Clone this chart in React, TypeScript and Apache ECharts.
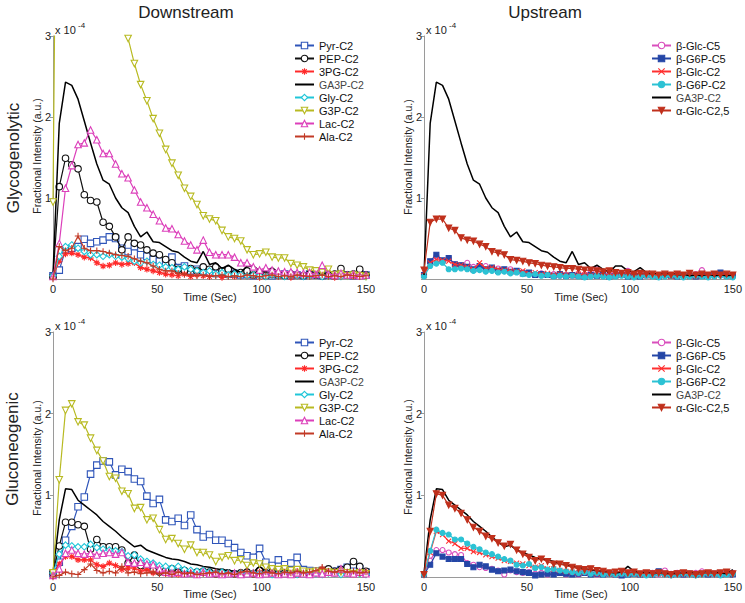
import React, { useEffect, useRef } from 'react';
import * as echarts from 'echarts';

// Time points (s)
const TIME = [0, 3, 6, 9, 12, 15, 18, 21, 24, 27, 30, 33, 36, 39, 42, 45, 48, 51, 54, 57, 60, 63, 66, 69, 72, 75, 78, 81, 84, 87, 90, 93, 96, 99, 102, 105, 108, 111, 114, 117, 120, 123, 126, 129, 132, 135, 138, 141, 144, 147, 150];

// Y tick labels (x 10^-4) and X tick labels
const Y_TICKS = [0, 1, 2, 3];
const X_TICKS = [0, 50, 100, 150];

// ---------- Glycogenolytic, downstream (values x 1e-4) ----------
const gnPyr = [0.04, 0.11, 0.36, 0.38, 0.4, 0.49, 0.44, 0.46, 0.48, 0.52, 0.5, 0.38, 0.34, 0.4, 0.3, 0.28, 0.24, 0.22, 0.2, 0.27, 0.14, 0.16, 0.1, 0.12, 0.1, 0.08, 0.07, 0.08, 0.06, 0.07, 0.05, 0.06, 0.04, 0.06, 0.05, 0.04, 0.05, 0.06, 0.04, 0.05, 0.04, 0.06, 0.05, 0.04, 0.05, 0.04, 0.06, 0.05, 0.04, 0.06, 0.05];
const gnPEP = [0.03, 1.14, 1.49, 1.41, 1.36, 1.04, 0.97, 0.95, 0.7, 0.65, 0.52, 0.36, 0.52, 0.44, 0.42, 0.36, 0.32, 0.3, 0.24, 0.2, 0.12, 0.1, 0.13, 0.1, 0.15, 0.12, 0.15, 0.1, 0.12, 0.06, 0.08, 0.1, 0.05, 0.08, 0.04, 0.06, 0.05, 0.04, 0.06, 0.05, 0.04, 0.06, 0.05, 0.04, 0.05, 0.06, 0.13, 0.05, 0.06, 0.12, 0.05];
const gn3PG = [0.03, 0.22, 0.31, 0.32, 0.3, 0.27, 0.26, 0.2, 0.16, 0.17, 0.2, 0.18, 0.19, 0.2, 0.14, 0.12, 0.1, 0.08, 0.06, 0.05, 0.04, 0.06, 0.03, 0.05, 0.04, 0.03, 0.05, 0.02, 0.04, 0.03, 0.05, 0.03, 0.04, 0.02, 0.03, 0.05, 0.03, 0.04, 0.02, 0.03, 0.04, 0.03, 0.05, 0.03, 0.04, 0.02, 0.03, 0.04, 0.03, 0.05, 0.03];
const gnGA3P = [0.05, 1.92, 2.43, 2.39, 2.22, 1.95, 1.68, 1.42, 1.22, 1.17, 1.0, 0.88, 0.82, 0.65, 0.52, 0.58, 0.46, 0.45, 0.4, 0.35, 0.33, 0.27, 0.22, 0.2, 0.34, 0.18, 0.2, 0.13, 0.17, 0.12, 0.08, 0.16, 0.16, 0.1, 0.09, 0.14, 0.08, 0.06, 0.07, 0.05, 0.07, 0.05, 0.06, 0.04, 0.05, 0.04, 0.06, 0.04, 0.05, 0.04, 0.05];
const gnGly = [0.04, 0.28, 0.4, 0.42, 0.38, 0.34, 0.3, 0.3, 0.28, 0.3, 0.28, 0.27, 0.25, 0.22, 0.2, 0.22, 0.18, 0.17, 0.15, 0.14, 0.12, 0.15, 0.12, 0.1, 0.08, 0.1, 0.06, 0.08, 0.05, 0.06, 0.05, 0.04, 0.05, 0.04, 0.03, 0.05, 0.04, 0.03, 0.05, 0.04, 0.03, 0.04, 0.05, 0.03, 0.04, 0.05, 0.03, 0.04, 0.05, 0.04, 0.03];
const gnG3P = [0.95, 9.5, 9.0, 8.4, 7.8, 7.2, 6.6, 6.0, 5.4, 4.8, 4.2, 3.3, 2.97, 2.66, 2.4, 2.2, 1.98, 1.8, 1.6, 1.43, 1.28, 1.12, 1.02, 0.92, 0.78, 0.74, 0.72, 0.6, 0.52, 0.5, 0.47, 0.36, 0.3, 0.31, 0.33, 0.27, 0.26, 0.26, 0.19, 0.17, 0.15, 0.11, 0.1, 0.08, 0.12, 0.05, 0.06, 0.04, 0.05, 0.04, 0.03];
const gnLac = [0.03, 0.44, 1.12, 1.4, 1.66, 1.68, 1.84, 1.72, 1.55, 1.55, 1.42, 1.3, 1.25, 1.1, 0.95, 0.88, 0.8, 0.72, 0.63, 0.62, 0.55, 0.47, 0.42, 0.36, 0.48, 0.33, 0.3, 0.3, 0.3, 0.27, 0.2, 0.2, 0.15, 0.11, 0.14, 0.11, 0.1, 0.09, 0.09, 0.08, 0.07, 0.08, 0.06, 0.17, 0.06, 0.05, 0.07, 0.05, 0.06, 0.04, 0.05];
const gnAla = [0.0, 0.4, 0.35, 0.38, 0.53, 0.38, 0.35, 0.35, 0.34, 0.32, 0.3, 0.29, 0.28, 0.25, 0.22, 0.2, 0.16, 0.12, 0.1, 0.1, 0.07, 0.06, 0.05, 0.04, 0.05, 0.03, 0.04, 0.05, 0.03, 0.04, 0.03, 0.05, 0.04, 0.03, 0.04, 0.05, 0.03, 0.04, 0.03, 0.05, 0.04, 0.03, 0.04, 0.05, 0.03, 0.04, 0.03, 0.05, 0.04, 0.03, 0.04];

// ---------- Glycogenolytic, upstream ----------
const guGlcC5 = [0.06, 0.2, 0.28, 0.22, 0.26, 0.18, 0.17, 0.2, 0.15, 0.14, 0.16, 0.12, 0.13, 0.1, 0.12, 0.09, 0.08, 0.07, 0.05, 0.07, 0.05, 0.06, 0.04, 0.05, 0.04, 0.06, 0.05, 0.1, 0.12, 0.06, 0.05, 0.08, 0.06, 0.1, 0.05, 0.06, 0.04, 0.05, 0.04, 0.05, 0.04, 0.06, 0.05, 0.04, 0.06, 0.11, 0.05, 0.04, 0.06, 0.04, 0.05];
const guG6PC5 = [0.05, 0.22, 0.3, 0.23, 0.26, 0.18, 0.17, 0.15, 0.12, 0.16, 0.12, 0.14, 0.1, 0.12, 0.09, 0.1, 0.07, 0.08, 0.05, 0.06, 0.05, 0.04, 0.06, 0.04, 0.05, 0.04, 0.03, 0.05, 0.04, 0.05, 0.03, 0.04, 0.05, 0.03, 0.04, 0.03, 0.05, 0.04, 0.03, 0.05, 0.04, 0.03, 0.05, 0.04, 0.03, 0.04, 0.05, 0.06, 0.08, 0.04, 0.05];
const guGlcC2 = [0.04, 0.2, 0.24, 0.23, 0.22, 0.18, 0.17, 0.15, 0.12, 0.2, 0.13, 0.14, 0.12, 0.11, 0.1, 0.09, 0.1, 0.07, 0.08, 0.06, 0.07, 0.05, 0.06, 0.05, 0.04, 0.06, 0.05, 0.04, 0.05, 0.04, 0.06, 0.04, 0.05, 0.04, 0.03, 0.05, 0.04, 0.03, 0.05, 0.04, 0.03, 0.04, 0.05, 0.03, 0.04, 0.05, 0.04, 0.03, 0.05, 0.04, 0.04];
const guG6PC2 = [0.03, 0.16, 0.19, 0.2, 0.12, 0.12, 0.13, 0.12, 0.1, 0.11, 0.09, 0.1, 0.08, 0.09, 0.07, 0.08, 0.06, 0.05, 0.06, 0.04, 0.05, 0.03, 0.04, 0.03, 0.04, 0.03, 0.02, 0.03, 0.04, 0.03, 0.02, 0.03, 0.04, 0.03, 0.02, 0.03, 0.04, 0.03, 0.02, 0.03, 0.04, 0.03, 0.02, 0.03, 0.04, 0.03, 0.02, 0.03, 0.04, 0.03, 0.02];
const guAGlc = [0.11, 0.7, 0.74, 0.74, 0.63, 0.6, 0.51, 0.48, 0.47, 0.43, 0.4, 0.34, 0.32, 0.3, 0.24, 0.23, 0.22, 0.2, 0.19, 0.17, 0.16, 0.15, 0.14, 0.13, 0.13, 0.12, 0.11, 0.11, 0.1, 0.09, 0.1, 0.08, 0.07, 0.08, 0.06, 0.07, 0.06, 0.06, 0.05, 0.06, 0.05, 0.06, 0.05, 0.07, 0.05, 0.06, 0.05, 0.06, 0.05, 0.06, 0.05];

// ---------- Gluconeogenic, downstream ----------
const cnPyr = [0.04, 0.18, 0.45, 0.62, 0.86, 0.98, 1.26, 1.37, 1.42, 1.41, 1.25, 1.32, 1.29, 1.2, 1.17, 0.99, 0.9, 0.95, 0.7, 0.68, 0.72, 0.63, 0.76, 0.58, 0.49, 0.52, 0.45, 0.45, 0.41, 0.36, 0.3, 0.26, 0.24, 0.35, 0.18, 0.14, 0.21, 0.15, 0.17, 0.24, 0.09, 0.08, 0.07, 0.08, 0.06, 0.07, 0.09, 0.12, 0.15, 0.1, 0.06];
const cnPEP = [0.05, 0.38, 0.67, 0.67, 0.64, 0.62, 0.34, 0.46, 0.37, 0.37, 0.37, 0.33, 0.17, 0.27, 0.14, 0.12, 0.08, 0.06, 0.08, 0.1, 0.06, 0.08, 0.05, 0.06, 0.07, 0.06, 0.04, 0.06, 0.05, 0.04, 0.05, 0.06, 0.04, 0.08, 0.05, 0.06, 0.04, 0.05, 0.06, 0.04, 0.05, 0.04, 0.06, 0.08, 0.1, 0.07, 0.09, 0.12, 0.19, 0.13, 0.07];
const cn3PG = [0.03, 0.16, 0.25, 0.25, 0.21, 0.21, 0.21, 0.15, 0.13, 0.17, 0.14, 0.09, 0.11, 0.11, 0.07, 0.09, 0.05, 0.06, 0.04, 0.06, 0.03, 0.05, 0.04, 0.03, 0.05, 0.04, 0.03, 0.05, 0.04, 0.03, 0.04, 0.05, 0.03, 0.06, 0.04, 0.05, 0.03, 0.04, 0.05, 0.03, 0.04, 0.06, 0.05, 0.1, 0.05, 0.04, 0.06, 0.05, 0.04, 0.05, 0.06];
const cnGA3P = [0.05, 0.7, 1.08, 1.07, 0.94, 0.88, 0.82, 0.76, 0.68, 0.62, 0.56, 0.49, 0.43, 0.37, 0.39, 0.33, 0.3, 0.27, 0.24, 0.22, 0.21, 0.19, 0.16, 0.15, 0.13, 0.12, 0.1, 0.09, 0.08, 0.07, 0.06, 0.05, 0.06, 0.13, 0.07, 0.05, 0.06, 0.04, 0.05, 0.04, 0.05, 0.04, 0.05, 0.06, 0.05, 0.06, 0.07, 0.06, 0.05, 0.04, 0.09];
const cnGly = [0.05, 0.28, 0.39, 0.38, 0.37, 0.37, 0.4, 0.36, 0.34, 0.33, 0.32, 0.31, 0.26, 0.27, 0.22, 0.19, 0.17, 0.14, 0.13, 0.11, 0.13, 0.09, 0.08, 0.07, 0.08, 0.06, 0.05, 0.06, 0.05, 0.04, 0.05, 0.04, 0.05, 0.04, 0.05, 0.03, 0.04, 0.05, 0.04, 0.03, 0.04, 0.05, 0.04, 0.03, 0.05, 0.04, 0.03, 0.04, 0.05, 0.04, 0.03];
const cnG3P = [0.05, 1.19, 2.04, 2.12, 1.9, 1.86, 1.7, 1.55, 1.42, 1.23, 1.21, 1.05, 1.02, 0.84, 0.85, 0.7, 0.72, 0.58, 0.46, 0.47, 0.41, 0.34, 0.39, 0.3, 0.3, 0.27, 0.19, 0.24, 0.26, 0.2, 0.21, 0.14, 0.17, 0.16, 0.12, 0.1, 0.09, 0.1, 0.08, 0.09, 0.07, 0.06, 0.07, 0.05, 0.06, 0.05, 0.06, 0.05, 0.04, 0.05, 0.04];
const cnLac = [0.02, 0.1, 0.29, 0.33, 0.29, 0.28, 0.29, 0.27, 0.29, 0.3, 0.28, 0.3, 0.18, 0.17, 0.18, 0.16, 0.15, 0.1, 0.06, 0.05, 0.06, 0.04, 0.05, 0.03, 0.06, 0.04, 0.05, 0.03, 0.04, 0.05, 0.03, 0.04, 0.05, 0.03, 0.04, 0.05, 0.03, 0.04, 0.03, 0.05, 0.04, 0.03, 0.05, 0.04, 0.06, 0.05, 0.1, 0.05, 0.04, 0.06, 0.04];
const cnAla = [0.0, 0.02, 0.06, 0.04, 0.03, 0.09, 0.16, 0.08, 0.05, 0.07, 0.05, 0.13, 0.05, 0.06, 0.04, 0.05, 0.06, 0.04, 0.05, 0.03, 0.06, 0.04, 0.05, 0.03, 0.04, 0.05, 0.06, 0.04, 0.05, 0.03, 0.06, 0.07, 0.05, 0.04, 0.06, 0.05, 0.04, 0.06, 0.05, 0.07, 0.05, 0.06, 0.08, 0.12, 0.07, 0.06, 0.08, 0.06, 0.07, 0.05, 0.06];

// ---------- Gluconeogenic, upstream ----------
const cuGlcC5 = [0.03, 0.2, 0.33, 0.33, 0.3, 0.28, 0.27, 0.17, 0.15, 0.12, 0.11, 0.1, 0.08, 0.03, 0.08, 0.06, 0.05, 0.06, 0.04, 0.05, 0.03, 0.04, 0.05, 0.03, 0.04, 0.03, 0.05, 0.04, 0.03, 0.04, 0.05, 0.03, 0.04, 0.05, 0.04, 0.03, 0.04, 0.05, 0.03, 0.08, 0.04, 0.05, 0.03, 0.04, 0.05, 0.07, 0.04, 0.03, 0.05, 0.04, 0.05];
const cuG6PC5 = [0.03, 0.15, 0.29, 0.25, 0.22, 0.22, 0.22, 0.16, 0.12, 0.15, 0.13, 0.09, 0.07, 0.08, 0.09, 0.07, 0.06, 0.05, 0.02, 0.03, 0.04, 0.03, 0.05, 0.04, 0.03, 0.04, 0.05, 0.03, 0.04, 0.03, 0.04, 0.03, 0.02, 0.03, 0.04, 0.03, 0.04, 0.03, 0.07, 0.04, 0.03, 0.04, 0.03, 0.04, 0.03, 0.04, 0.03, 0.04, 0.03, 0.04, 0.03];
const cuGlcC2 = [0.03, 0.3, 0.56, 0.52, 0.44, 0.41, 0.35, 0.35, 0.31, 0.3, 0.27, 0.25, 0.23, 0.2, 0.19, 0.17, 0.16, 0.14, 0.12, 0.14, 0.1, 0.1, 0.08, 0.07, 0.06, 0.05, 0.06, 0.05, 0.04, 0.05, 0.04, 0.03, 0.04, 0.05, 0.04, 0.03, 0.04, 0.05, 0.04, 0.03, 0.04, 0.05, 0.04, 0.03, 0.04, 0.05, 0.04, 0.03, 0.04, 0.05, 0.04];
const cuG6PC2 = [0.03, 0.32, 0.58, 0.54, 0.52, 0.46, 0.46, 0.41, 0.37, 0.34, 0.3, 0.28, 0.25, 0.22, 0.2, 0.15, 0.14, 0.16, 0.11, 0.12, 0.09, 0.1, 0.08, 0.07, 0.06, 0.05, 0.06, 0.04, 0.05, 0.03, 0.04, 0.03, 0.04, 0.03, 0.04, 0.03, 0.02, 0.03, 0.04, 0.03, 0.02, 0.03, 0.04, 0.03, 0.02, 0.03, 0.04, 0.03, 0.02, 0.03, 0.04];
const cuAGlc = [0.03, 0.56, 1.02, 1.0, 0.88, 0.84, 0.78, 0.7, 0.61, 0.56, 0.5, 0.47, 0.42, 0.38, 0.4, 0.33, 0.28, 0.24, 0.2, 0.22, 0.19, 0.16, 0.16, 0.14, 0.12, 0.1, 0.09, 0.1, 0.08, 0.07, 0.05, 0.06, 0.07, 0.05, 0.06, 0.04, 0.05, 0.04, 0.05, 0.04, 0.03, 0.04, 0.05, 0.04, 0.03, 0.04, 0.05, 0.04, 0.05, 0.06, 0.04];

// Names
const DOWN_NAMES = ['Pyr-C2', 'PEP-C2', '3PG-C2', 'GA3P-C2', 'Gly-C2', 'G3P-C2', 'Lac-C2', 'Ala-C2'];
const UP_NAMES = ['β-Glc-C5', 'β-G6P-C5', 'β-Glc-C2', 'β-G6P-C2', 'GA3P-C2', 'α-Glc-C2,5'];

const FONT = '"Liberation Sans", Arial, Helvetica, sans-serif';

const SQ = 'path://M0,0L10,0L10,10L0,10Z';
const CIRC = 'path://M5,0A5,5,0,1,1,5,10A5,5,0,1,1,5,0Z';
const DIAM = 'path://M5,0L10,5L5,10L0,5Z';
const TRI_UP = 'path://M5,0L10,9L0,9Z';
const TRI_DN = 'path://M0,0L10,0L5,9Z';
const PLUS = 'path://M5,0L5,10M0,5L10,5';
const STAR = 'path://M5,0L5,10M0,5L10,5M1.5,1.5L8.5,8.5M1.5,8.5L8.5,1.5';
const CROSS = 'path://M0,0L10,10M0,10L10,0';

type Style = { color: string; symbol: string; hollow?: boolean; size?: number; lineOnly?: boolean };

const DOWN_STYLE: Style[] = [
  { color: '#2f55b9', symbol: SQ, hollow: true },
  { color: '#111111', symbol: CIRC, hollow: true },
  { color: '#ff2a2a', symbol: STAR },
  { color: '#000000', symbol: 'circle', lineOnly: true },
  { color: '#20c6d8', symbol: DIAM, hollow: true },
  { color: '#b8ba22', symbol: TRI_DN, hollow: true },
  { color: '#dc3fba', symbol: TRI_UP, hollow: true },
  { color: '#c23a26', symbol: PLUS },
];
const UP_STYLE: Style[] = [
  { color: '#d94fbd', symbol: CIRC, hollow: true, size: 5 },
  { color: '#2446a6', symbol: SQ, size: 5 },
  { color: '#ff3030', symbol: CROSS, size: 5 },
  { color: '#2cc2d4', symbol: CIRC, size: 5 },
  { color: '#000000', symbol: 'circle', lineOnly: true },
  { color: '#c0301c', symbol: TRI_DN, size: 6 },
];

const PANELS = [
  { names: DOWN_NAMES, styles: DOWN_STYLE, values: [gnPyr, gnPEP, gn3PG, gnGA3P, gnGly, gnG3P, gnLac, gnAla] },
  { names: UP_NAMES, styles: UP_STYLE, values: [guGlcC5, guG6PC5, guGlcC2, guG6PC2, gnGA3P, guAGlc] },
  { names: DOWN_NAMES, styles: DOWN_STYLE, values: [cnPyr, cnPEP, cn3PG, cnGA3P, cnGly, cnG3P, cnLac, cnAla] },
  { names: UP_NAMES, styles: UP_STYLE, values: [cuGlcC5, cuG6PC5, cuGlcC2, cuG6PC2, cnGA3P, cuAGlc] },
];

const GRIDS = [
  { left: 53, top: 36, width: 313, height: 243 },
  { left: 424, top: 36, width: 314, height: 243 },
  { left: 53, top: 332, width: 313, height: 245 },
  { left: 424, top: 332, width: 314, height: 245 },
];
const LEGEND_POS = [
  { left: 294, top: 40 },
  { left: 651, top: 40 },
  { left: 294, top: 337 },
  { left: 651, top: 337 },
];

export default function App() {
  const ref = useRef<HTMLDivElement>(null);
  useEffect(() => {
    if (!ref.current) return;
    const chart = echarts.init(ref.current, null, { renderer: 'svg' });
    const axisColor = '#9a9a9a';
    const xAxes = GRIDS.map((_, i) => ({
      type: 'value', gridIndex: i, min: X_TICKS[0], max: X_TICKS[X_TICKS.length - 1], interval: 50,
      axisLine: { show: true, lineStyle: { color: axisColor, width: 1 } },
      axisTick: { show: false },
      splitLine: { show: false },
      axisLabel: { color: '#222', fontSize: 11, fontFamily: FONT, margin: 4 },
    }));
    const yAxes = GRIDS.map((_, i) => ({
      type: 'value', gridIndex: i, min: Y_TICKS[0], max: Y_TICKS[Y_TICKS.length - 1], interval: 1,
      axisLine: { show: true, lineStyle: { color: axisColor, width: 1 } },
      axisTick: { show: true, inside: false, length: 3, lineStyle: { color: axisColor } },
      splitLine: { show: false },
      axisLabel: { color: '#222', fontSize: 11, fontFamily: FONT, margin: 2, formatter: (v: number) => (v === 0 ? '' : String(v)) },
    }));
    const series: any[] = [];
    PANELS.forEach((p, gi) => {
      p.names.forEach((name, k) => {
        const st = p.styles[k];
        const vals = p.values[k];
        series.push({
          type: 'line', name, xAxisIndex: gi, yAxisIndex: gi,
          data: vals.map((v, i) => [TIME[i], v]),
          symbol: st.symbol,
          showSymbol: !st.lineOnly,
          symbolSize: st.size ?? 6.5,
          clip: true,
          silent: true,
          lineStyle: { color: st.color, width: st.lineOnly ? 1.5 : 1.2 },
          itemStyle: st.lineOnly
            ? { color: st.color, opacity: 0 }
            : { color: st.hollow ? '#ffffff' : st.color, borderColor: st.color, borderWidth: 1.1 },
          emphasis: { disabled: true },
          z: 2 + k,
        });
      });
    });
    const legends = PANELS.map((p, i) => ({
      orient: 'vertical', left: LEGEND_POS[i].left, top: LEGEND_POS[i].top, padding: 0,
      itemWidth: 19, itemHeight: 8, itemGap: 2, selectedMode: false,
      itemStyle: { borderWidth: 1.1 },
      textStyle: { color: '#111', fontSize: 11, fontFamily: FONT },
      data: p.names.map((n) => (n === 'GA3P-C2'
        ? { name: n, textStyle: { color: '#444', fontSize: 10.5 }, itemStyle: { opacity: 0 } }
        : { name: n })),
    }));
    const txt = (x: number, y: number, text: string, size: number, rot = 0, extra: any = {}) => ({
      type: 'text', x, y, rotation: rot, silent: true,
      style: { text, fill: '#222', fontSize: size, fontFamily: FONT, align: 'center', verticalAlign: 'middle', ...extra },
    });
    const graphic: any[] = [
      txt(186, 12, 'Downstream', 17),
      txt(545, 12, 'Upstream', 17),
      txt(13, 158, 'Glycogenolytic', 17, Math.PI / 2),
      txt(12, 449, 'Gluconeogenic', 17, Math.PI / 2),
      txt(37, 156, 'Fractional Intensity (a.u.)', 10.5, Math.PI / 2),
      txt(408, 157, 'Fractional Intensity (a.u.)', 10.5, Math.PI / 2),
      txt(37, 458, 'Fractional Intensity (a.u.)', 10.5, Math.PI / 2),
      txt(408, 457, 'Fractional Intensity (a.u.)', 10.5, Math.PI / 2),
      txt(210, 297, 'Time (Sec)', 11),
      txt(581, 297, 'Time (Sec)', 11),
      txt(210, 594, 'Time (Sec)', 11),
      txt(581, 594, 'Time (Sec)', 11),
    ];
    [[55, 30], [426, 30], [55, 326], [426, 326]].forEach(([x, y]) => {
      graphic.push(txt(x, y, 'x 10', 11, 0, { align: 'left' }));
      graphic.push(txt(x + 23, y - 5, '-4', 8, 0, { align: 'left' }));
    });
    chart.setOption({
      animation: false,
      backgroundColor: '#ffffff',
      grid: GRIDS.map((g) => ({ ...g, containLabel: false })),
      xAxis: xAxes,
      yAxis: yAxes,
      legend: legends,
      series,
      graphic,
    });
    return () => chart.dispose();
  }, []);
  return <div ref={ref} style={{ position: 'absolute', left: 0, top: 0, width: 745, height: 603, background: '#fff' }} />;
}
